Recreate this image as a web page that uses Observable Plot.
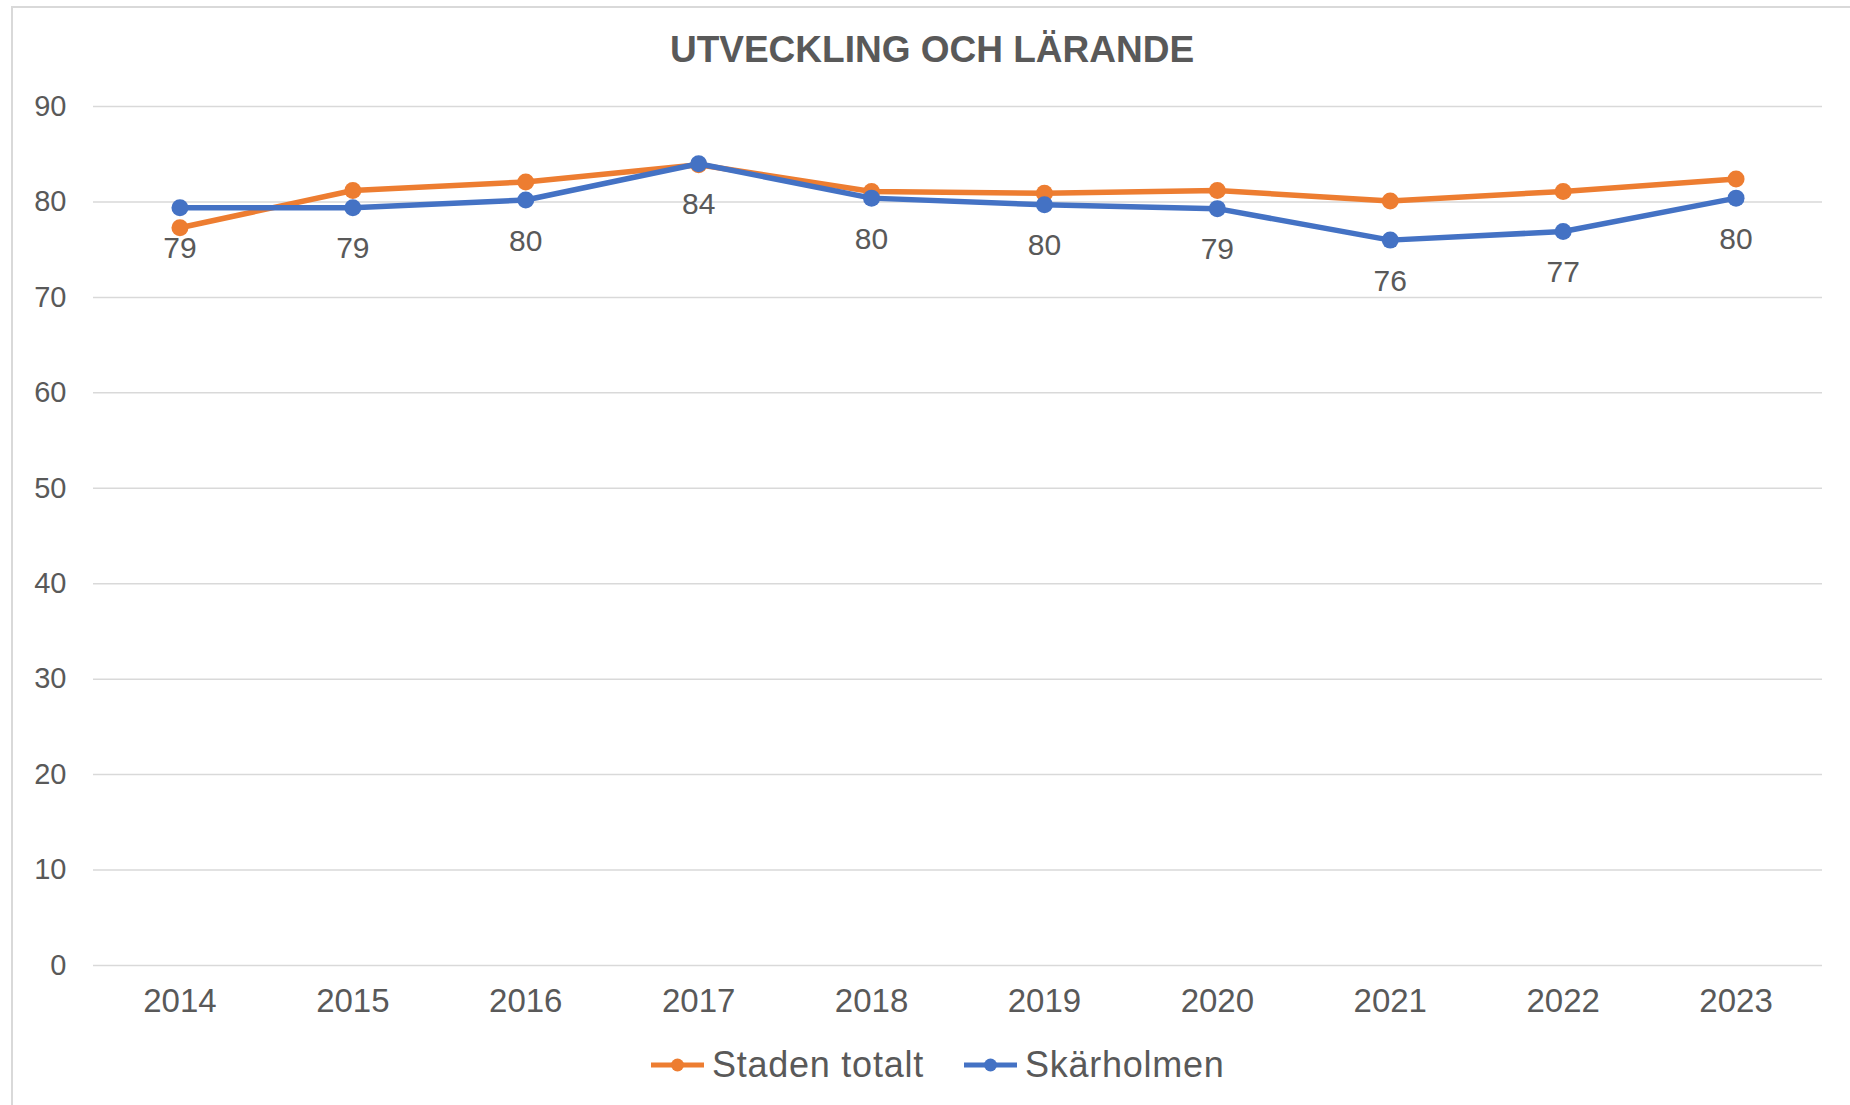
<!DOCTYPE html>
<html>
<head>
<meta charset="utf-8">
<script src="https://cdn.jsdelivr.net/npm/d3@7"></script>
<script src="https://cdn.jsdelivr.net/npm/@observablehq/plot@0.6"></script>
<style>
  html, body { margin: 0; padding: 0; background: #fff; }
  body { width: 1850px; height: 1105px; position: relative; overflow: hidden;
         font-family: "Liberation Sans", Arial, sans-serif; color: #595959; }
  #frame { position: absolute; left: 11px; top: 6px; width: 1900px; height: 1200px;
           border: 2px solid #D9D9D9; box-sizing: border-box; }
  #title { position: absolute; left: 12px; width: 1840px; top: 29px; text-align: center;
           font-size: 37px; font-weight: bold; line-height: normal; color: #595959; }
  #chart { position: absolute; left: 0; top: 80px; }
  #legend { position: absolute; left: 651px; top: 1047px; height: 36px; display: flex;
            align-items: center; font-size: 36px; line-height: 36px; letter-spacing: 0.75px; color: #595959; }
  .item { display: flex; align-items: center; }
  .item svg { display: block; }
  .item span { margin-left: 8px; }
</style>
</head>
<body>
<div id="frame"></div>
<div id="title">UTVECKLING OCH LÄRANDE</div>
<div id="chart"></div>
<div id="legend"></div>
<script>
const years = [2014, 2015, 2016, 2017, 2018, 2019, 2020, 2021, 2022, 2023];
const stadenTotalt = [77.3, 81.2, 82.1, 83.9, 81.1, 80.9, 81.2, 80.1, 81.1, 82.4];
const skarholmen = [79.4, 79.4, 80.2, 84.0, 80.4, 79.7, 79.3, 76.0, 76.9, 80.4];
const seriesNames = ["Staden totalt", "Skärholmen"];
const seriesColors = ["#ED7D31", "#4472C4"];
const yTicks = [0, 10, 20, 30, 40, 50, 60, 70, 80, 90];

const rows = [];
[stadenTotalt, skarholmen].forEach((vals, si) => {
  vals.forEach((v, i) => rows.push({year: String(years[i]), value: v, series: seriesNames[si]}));
});
const staden = rows.filter(d => d.series === seriesNames[0]);
const skar = rows.filter(d => d.series === seriesNames[1]);

const chart = Plot.plot({
  width: 1850,
  height: 960,
  marginTop: 26,
  marginBottom: 75,
  marginLeft: 93,
  marginRight: 28,
  style: {fontFamily: "'Liberation Sans', Arial, sans-serif", color: "#595959", background: "transparent"},
  x: {type: "point", domain: years.map(String), padding: 0.5, round: false, label: null},
  y: {domain: [0, 90], label: null},
  marks: [
    Plot.ruleY(yTicks, {stroke: "#D9D9D9", strokeWidth: 1.5}),
    Plot.axisY({ticks: yTicks, tickSize: 0, tickPadding: 27, fontSize: 29, fill: "#595959", label: null}),
    Plot.axisX({tickSize: 0, tickPadding: 23, fontSize: 33, fill: "#595959", label: null}),
    Plot.line(staden, {x: "year", y: "value", stroke: seriesColors[0], strokeWidth: 5.5}),
    Plot.dot(staden, {x: "year", y: "value", fill: seriesColors[0], r: 8.5}),
    Plot.line(skar, {x: "year", y: "value", stroke: seriesColors[1], strokeWidth: 5.5}),
    Plot.dot(skar, {x: "year", y: "value", fill: seriesColors[1], r: 8.5}),
    Plot.text(skar, {x: "year", y: "value", text: d => d3.format(".0f")(d.value), dy: 41,
                     fontSize: 30, fill: "#595959"})
  ]
});
document.getElementById("chart").appendChild(chart);

const legend = document.getElementById("legend");
seriesNames.forEach((name, i) => {
  const item = document.createElement("div");
  item.className = "item";
  if (i > 0) item.style.marginLeft = "40px";
  item.innerHTML = `<svg width="53" height="20"><line x1="0" y1="10" x2="53" y2="10" stroke="${seriesColors[i]}" stroke-width="5"/><circle cx="26.5" cy="10" r="6.5" fill="${seriesColors[i]}"/></svg><span>${name}</span>`;
  legend.appendChild(item);
});
</script>
</body>
</html>
